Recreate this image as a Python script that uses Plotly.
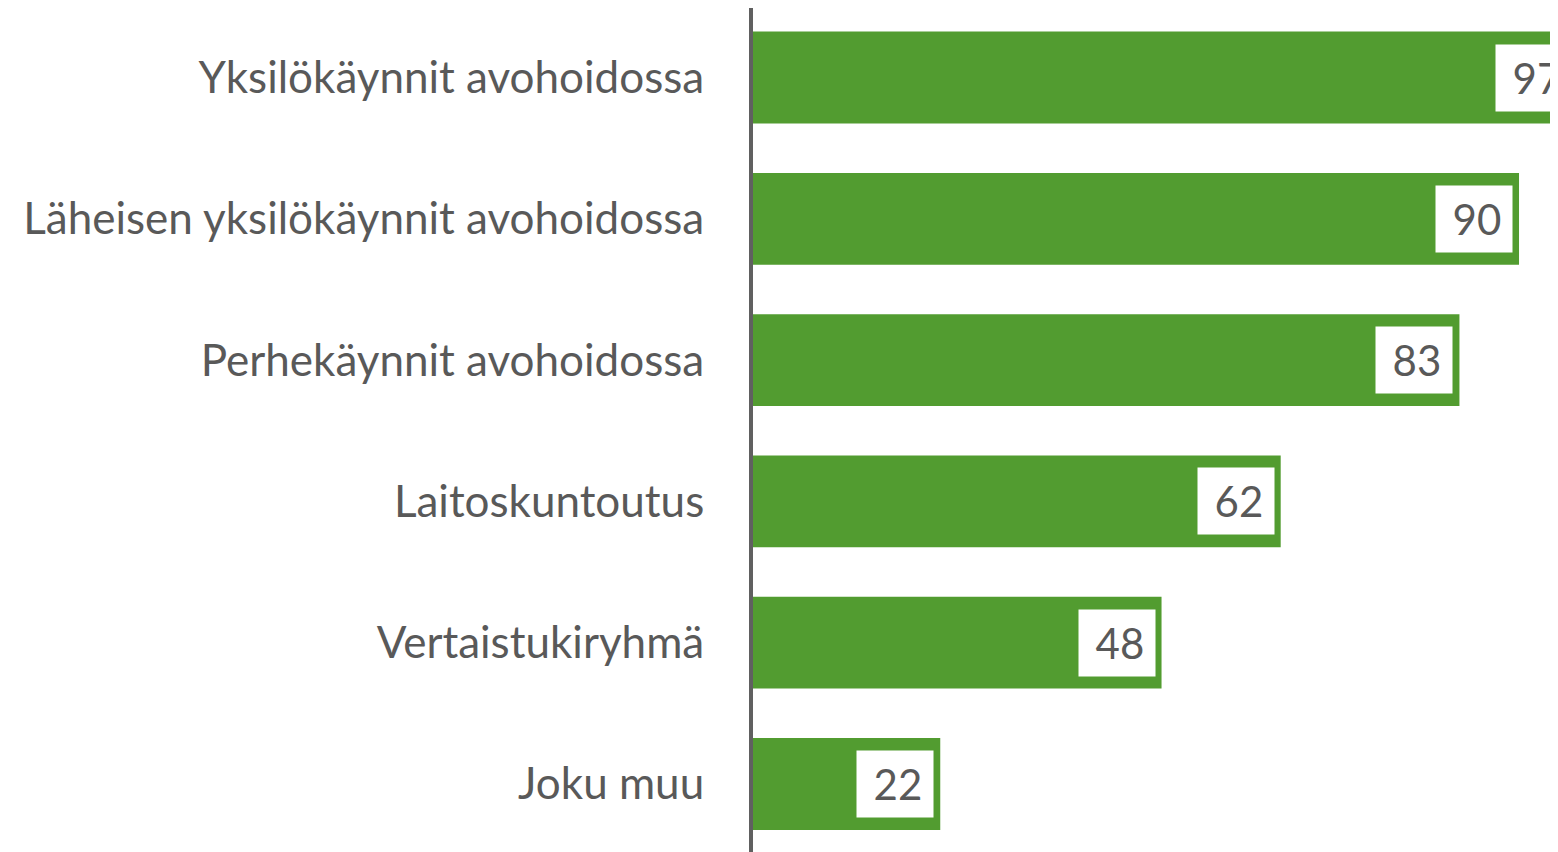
import plotly.graph_objects as go

categories = [
    "Yksilökäynnit avohoidossa",
    "Läheisen yksilökäynnit avohoidossa",
    "Perhekäynnit avohoidossa",
    "Laitoskuntoutus",
    "Vertaistukiryhmä",
    "Joku muu",
]
values = [97, 90, 83, 62, 48, 22]

XMAX = 95.52
BAR_COLOR = "#529C30"
TEXT_COLOR = "#595959"
FONT = "Lato"

fig = go.Figure()
fig.add_trace(go.Bar(
    y=categories,
    x=values,
    orientation="h",
    marker=dict(color=BAR_COLOR, line=dict(width=0)),
    width=0.65,
    hoverinfo="skip",
))

annotations = []
for c, v in zip(categories, values):
    annotations.append(dict(
        x=v / XMAX, xref="paper",
        y=c, yref="y",
        xanchor="right", yanchor="middle",
        xshift=-6,
        text=f"{v}\u00a0",
        showarrow=False,
        bgcolor="white",
        width=76, height=66,
        borderpad=0,
        align="right",
        font=dict(family=FONT, size=42, color=TEXT_COLOR),
    ))

fig.update_layout(
    width=1558, height=852,
    margin=dict(l=745, r=0, t=0, b=0),
    paper_bgcolor="white",
    plot_bgcolor="white",
    showlegend=False,
    annotations=annotations,
    xaxis=dict(range=[0, XMAX], visible=False, showgrid=False, zeroline=False, fixedrange=True),
    yaxis=dict(
        type="category",
        categoryorder="array",
        categoryarray=categories,
        range=[5.538, -0.492],
        showline=True,
        linecolor="#606060",
        linewidth=4,
        showgrid=False,
        zeroline=False,
        ticks="",
        ticklabelstandoff=36,
        tickfont=dict(family=FONT, size=44, color=TEXT_COLOR),
    ),
)

fig.write_html("out.html")
